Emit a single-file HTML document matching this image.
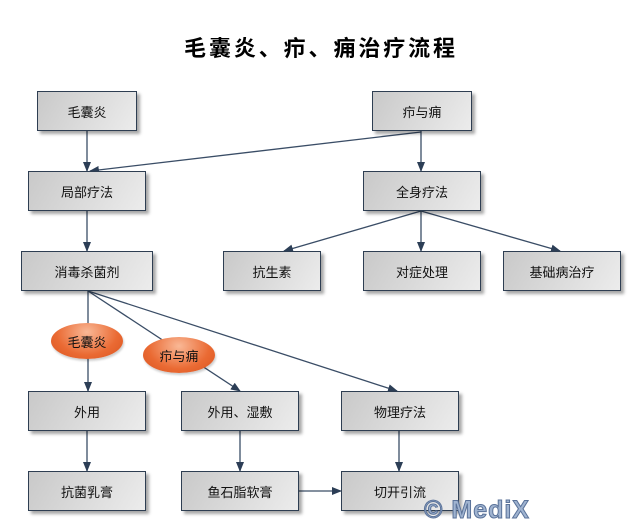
<!DOCTYPE html>
<html><head><meta charset="utf-8"><style>
body{margin:0;background:#fff;width:642px;height:520px;overflow:hidden;position:relative;font-family:"Liberation Sans","Noto Sans CJK SC",sans-serif}
.b{position:absolute;box-sizing:border-box;border:1px solid #2e3e52;background:linear-gradient(120deg,#c9c9c9,#ececec);box-shadow:3px 3px 3px rgba(0,0,0,.35);display:flex;align-items:center;justify-content:center;font-size:13px;color:#111;height:40px}
.e{position:absolute;width:72px;height:36px;border-radius:50%;background:radial-gradient(ellipse at 50% 25%,#f9b896,#ea6a33 60%,#d9531f);display:flex;align-items:center;justify-content:center;font-size:13px;color:#111;box-shadow:1px 2px 2px rgba(0,0,0,.2)}
.t{position:absolute;top:31px;left:0;width:642px;text-align:center;font-size:22px;font-weight:bold;letter-spacing:2.9px}
svg{position:absolute;left:0;top:0}
</style></head><body>
<div class="t">毛囊炎、疖、痈治疗流程</div>
<svg width="642" height="520">
<defs><marker id="a" markerWidth="10" markerHeight="8" refX="9" refY="4" orient="auto" markerUnits="userSpaceOnUse"><path d="M0,0L10,4L0,8z" fill="#2c3e56"/></marker></defs>
<g stroke="#3a4d66" stroke-width="1.3" fill="none" marker-end="url(#a)">
<line x1="87" y1="131" x2="87" y2="171"/>
<line x1="421" y1="132" x2="90" y2="171"/>
<line x1="421" y1="131" x2="421" y2="171"/>
<line x1="87" y1="211" x2="87" y2="251"/>
<line x1="421" y1="211" x2="284" y2="251"/>
<line x1="421" y1="211" x2="421" y2="251"/>
<line x1="421" y1="211" x2="560" y2="251"/>
<line x1="88" y1="291" x2="88" y2="391"/>
<line x1="88" y1="291" x2="240" y2="391"/>
<line x1="88" y1="291" x2="397" y2="391"/>
<line x1="87" y1="431" x2="87" y2="471"/>
<line x1="240" y1="431" x2="240" y2="471"/>
<line x1="399" y1="431" x2="399" y2="471"/>
<line x1="299" y1="491" x2="341" y2="491"/>
</g></svg>
<div class="b" style="left:37px;top:91px;width:100px">毛囊炎</div>
<div class="b" style="left:372px;top:91px;width:100px">疖与痈</div>
<div class="b" style="left:28px;top:171px;width:118px">局部疗法</div>
<div class="b" style="left:363px;top:171px;width:118px">全身疗法</div>
<div class="b" style="left:21px;top:251px;width:132px">消毒杀菌剂</div>
<div class="b" style="left:223px;top:251px;width:98px">抗生素</div>
<div class="b" style="left:363px;top:251px;width:118px">对症处理</div>
<div class="b" style="left:503px;top:251px;width:118px">基础病治疗</div>
<div class="b" style="left:28px;top:391px;width:118px">外用</div>
<div class="b" style="left:181px;top:391px;width:118px">外用、湿敷</div>
<div class="b" style="left:341px;top:391px;width:118px">物理疗法</div>
<div class="b" style="left:28px;top:471px;width:118px">抗菌乳膏</div>
<div class="b" style="left:181px;top:471px;width:118px">鱼石脂软膏</div>
<div class="b" style="left:341px;top:471px;width:118px">切开引流</div>
<div class="e" style="left:51px;top:323px">毛囊炎</div>
<div class="e" style="left:143px;top:337px">疖与痈</div>
<div style="position:absolute;left:424px;top:496px;font-size:25px;font-weight:bold;color:#9fb3d0;-webkit-text-stroke:1px #5a7299;letter-spacing:1px">© MediX</div>
</body></html>
